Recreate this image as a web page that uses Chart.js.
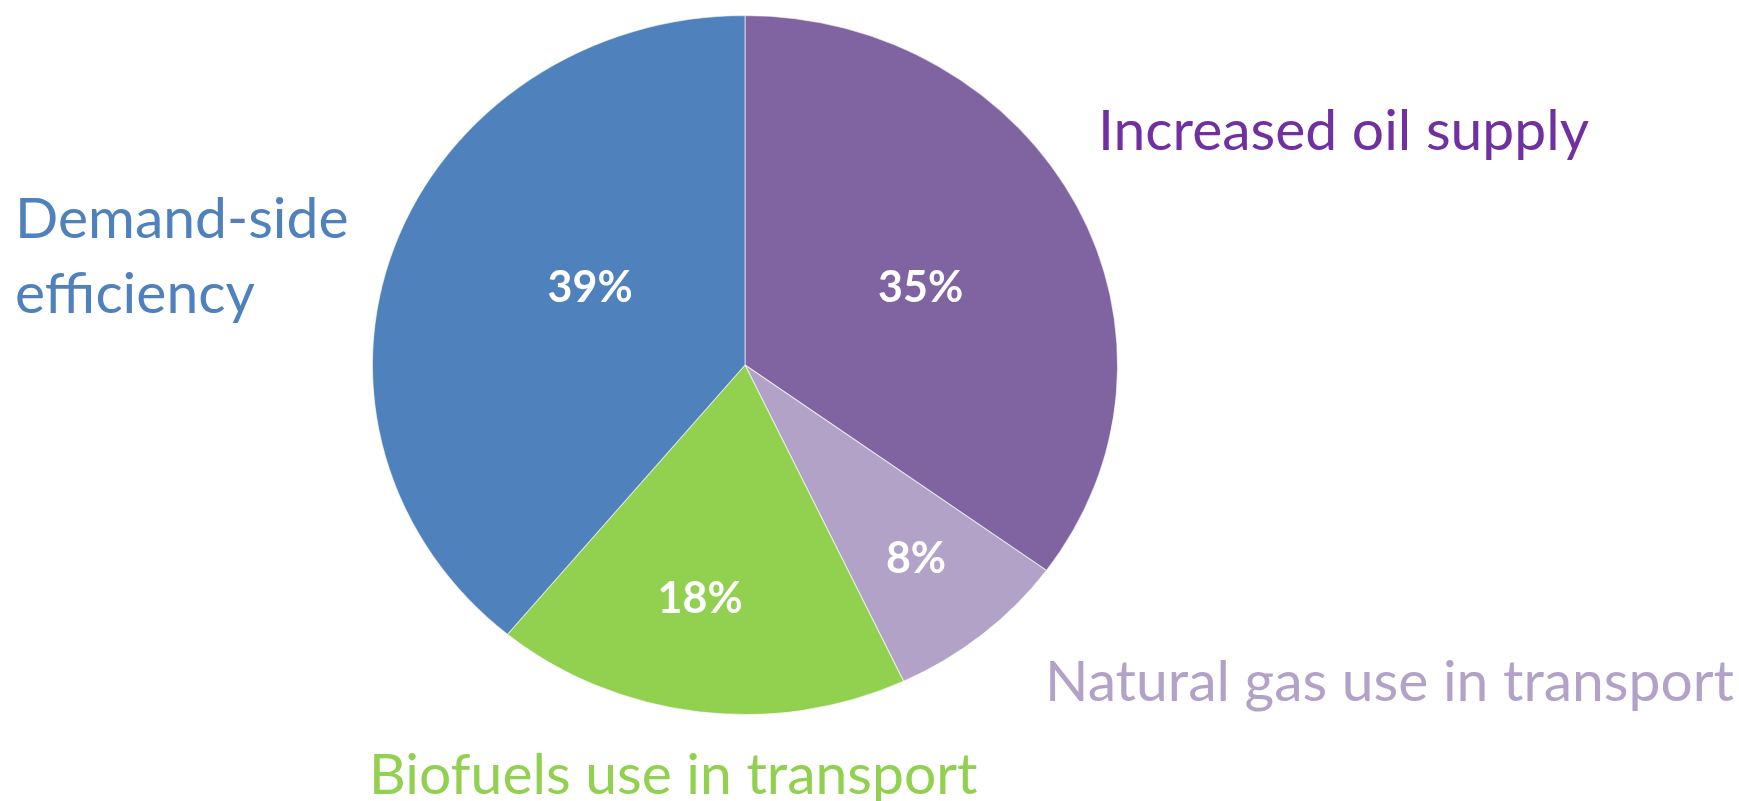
<!DOCTYPE html>
<html>
<head>
<meta charset="utf-8">
<script src="https://cdn.jsdelivr.net/npm/chart.js@4.4.1/dist/chart.umd.min.js"></script>
<style>
  html, body { margin: 0; padding: 0; background: #fff; }
  #wrap { width: 1739px; height: 801px; position: relative; }
</style>
</head>
<body>
<div id="wrap"><canvas id="pie"></canvas></div>
<script>
const categories = [
    "Increased oil supply",
    "Natural gas use in transport",
    "Biofuels use in transport",
    "Demand-side efficiency",
];
const shares = [35, 8, 18, 39];
const sliceColors = ["#8064A2", "#B3A2C7", "#92D050", "#4F81BD"];
const labelColors = ["#7030A0", "#B3A2C7", "#92D050", "#4F81BD"];

// where the category names sit (left x, baseline y, lines)
const nameSpots = [
    { x: 1098, y: 150, lines: ["Increased oil supply"] },
    { x: 1045, y: 701, lines: ["Natural gas use in transport"] },
    { x: 369, y: 794, lines: ["Biofuels use in transport"] },
    { x: 15, y: 238, lines: ["Demand-side", "efficiency"] },
];

const FONT = "Lato, 'Open Sans', sans-serif";
const stretchX = 1.066;

// pie is a bit wider than tall, stretch the arcs horizontally
const stretchPlugin = {
    id: "stretch",
    beforeDatasetsDraw(chart) {
        const arc = chart.getDatasetMeta(0).data[0];
        const ctx = chart.ctx;
        ctx.save();
        ctx.translate(arc.x, arc.y);
        ctx.scale(stretchX, 1);
        ctx.translate(-arc.x, -arc.y);
    },
    afterDatasetsDraw(chart) {
        chart.ctx.restore();
    },
};

const labelPlugin = {
    id: "sliceLabels",
    afterDraw(chart, args, opts) {
        const ctx = chart.ctx;
        const arcs = chart.getDatasetMeta(0).data;
        ctx.save();
        ctx.fillStyle = "#ffffff";
        ctx.font = "bold 43px " + FONT;
        ctx.textAlign = "center";
        ctx.textBaseline = "middle";
        arcs.forEach((arc, i) => {
            const mid = (arc.startAngle + arc.endAngle) / 2 + opts.shift[i] * Math.PI / 180;
            const r = arc.outerRadius * opts.dist[i];
            const x = arc.x + Math.cos(mid) * r * stretchX;
            const y = arc.y + Math.sin(mid) * r;
            ctx.fillText(shares[i] + "%", x, y);
        });

        ctx.font = "57px " + FONT;
        ctx.textAlign = "left";
        ctx.textBaseline = "alphabetic";
        nameSpots.forEach((spot, i) => {
            ctx.fillStyle = labelColors[i];
            spot.lines.forEach((line, j) => {
                ctx.fillText(line, spot.x, spot.y + j * 75);
            });
        });
        ctx.restore();
    },
};

new Chart(document.getElementById("pie"), {
    type: "pie",
    data: {
        labels: categories,
        datasets: [
            {
                data: shares,
                backgroundColor: sliceColors,
                borderColor: "rgba(255,255,255,0.6)",
                borderWidth: 1,
            },
        ],
    },
    options: {
        responsive: true,
        maintainAspectRatio: false,
        animation: false,
        layout: {
            padding: { top: 15, bottom: 86, left: 395, right: 644 },
        },
        plugins: {
            legend: { display: false },
            tooltip: { enabled: false },
            sliceLabels: {
                dist: [0.52, 0.72, 0.68, 0.47],
                shift: [2, 0, 3, 8],
            },
        },
    },
    plugins: [stretchPlugin, labelPlugin],
});
</script>
</body>
</html>
